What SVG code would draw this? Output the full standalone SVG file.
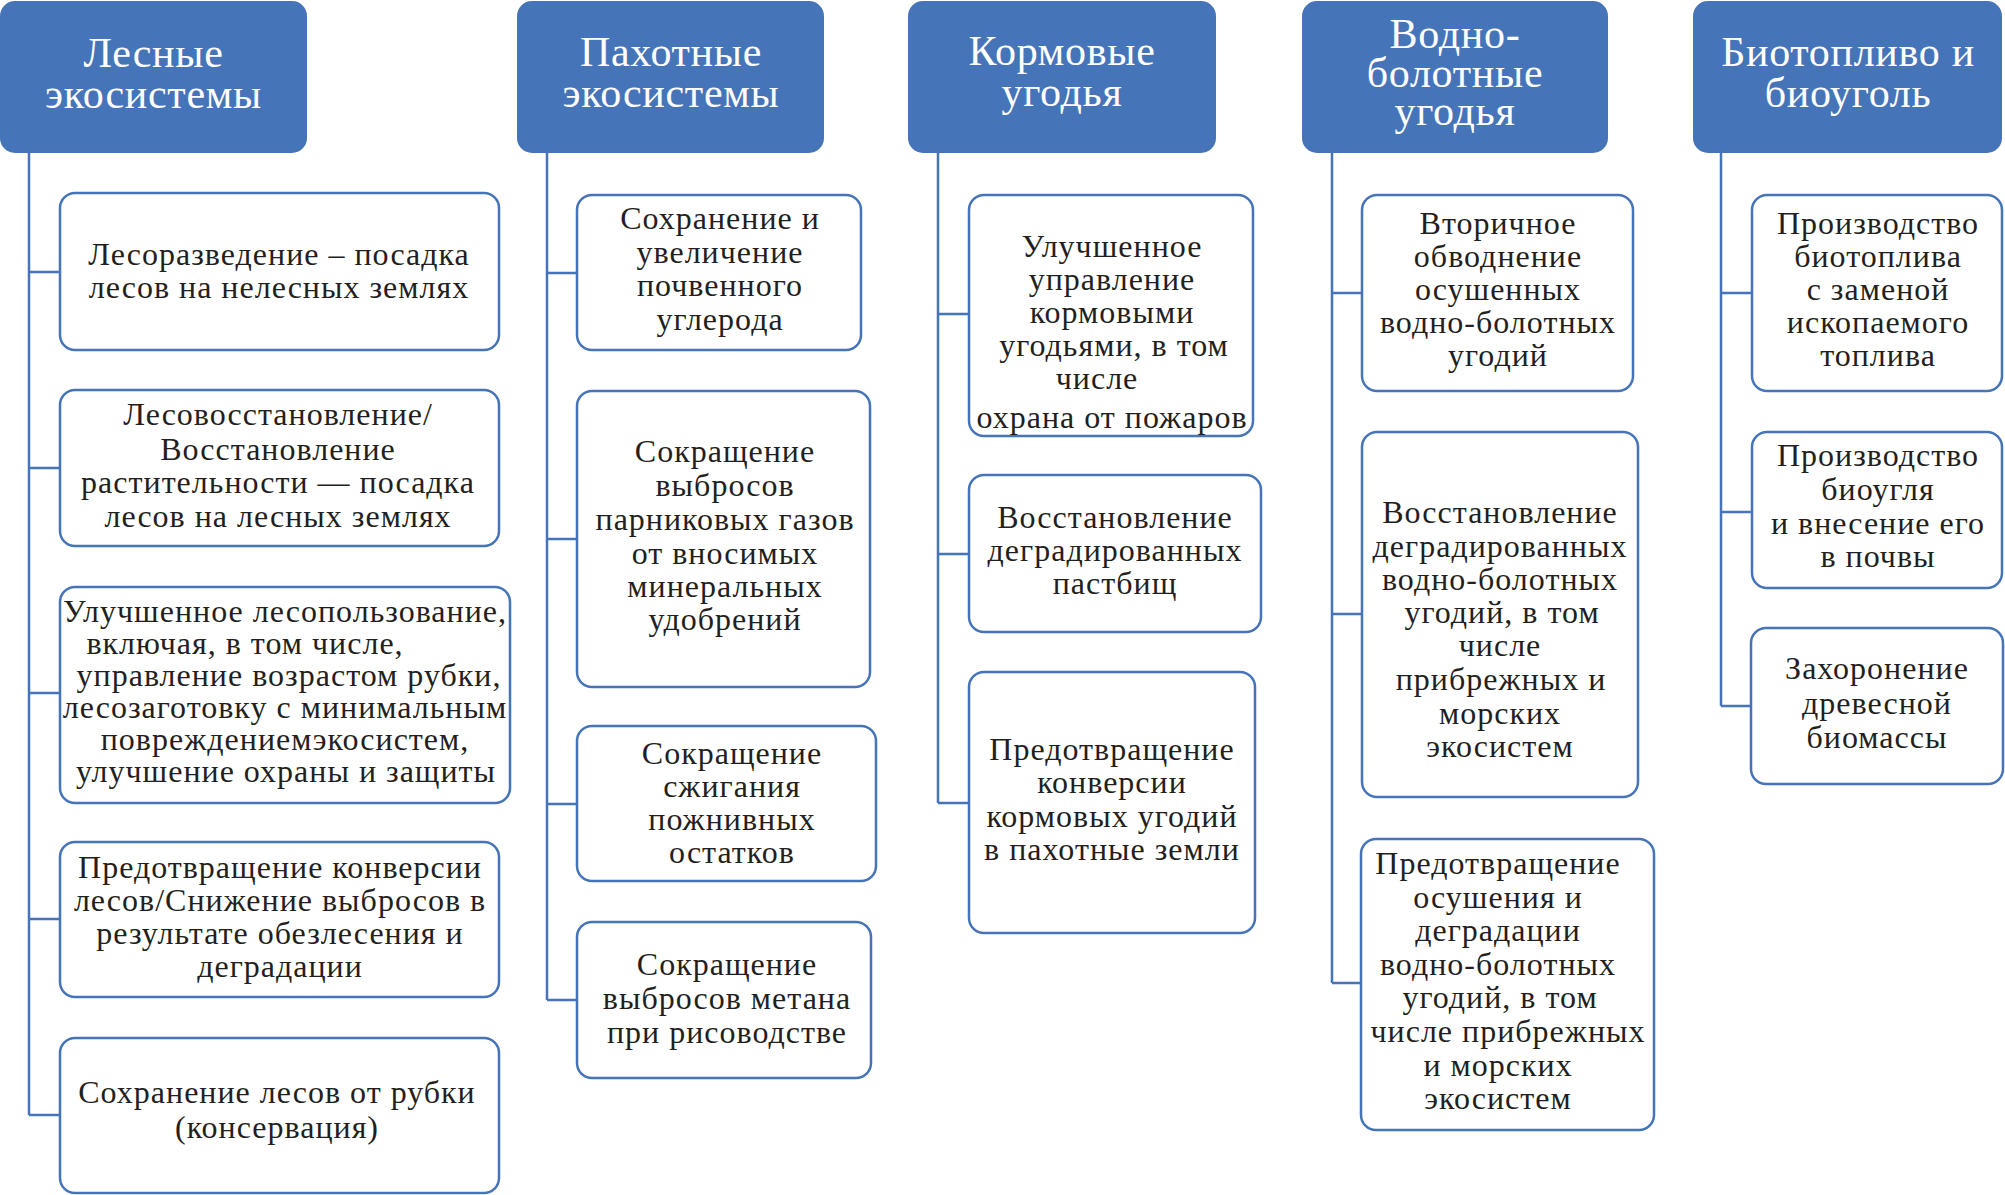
<svg xmlns="http://www.w3.org/2000/svg" width="2005" height="1195" viewBox="0 0 2005 1195">
<style>
.bg{fill:#ffffff}
.hdr rect{fill:#4674b9;stroke:none}
.hdr text{fill:#ffffff;font-family:"Liberation Serif","Times New Roman",serif;font-size:42px;letter-spacing:0.7px;text-anchor:middle}
.box rect{fill:#ffffff;stroke:#4674b9;stroke-width:2.5}
.box text{fill:#231f20;font-family:"Liberation Serif","Times New Roman",serif;font-size:32px;letter-spacing:1px;text-anchor:middle}
.conn path{fill:none;stroke:#4674b9;stroke-width:2.5}
</style>
<rect class="bg" x="0" y="0" width="2005" height="1195"/>
<g id="connectors" class="conn">
<path d="M29,153 V1115 M29,272 H60 M29,468 H60 M29,693 H60 M29,919 H60 M29,1115 H60"/>
<path d="M547,153 V1000 M547,273 H577 M547,539 H577 M547,804 H577 M547,1000 H577"/>
<path d="M938,153 V803 M938,314 H969 M938,554 H969 M938,803 H969"/>
<path d="M1332,153 V983 M1332,293 H1362 M1332,614 H1362 M1332,983 H1361"/>
<path d="M1721,153 V706 M1721,293 H1752 M1721,512 H1752 M1721,706 H1751"/>
</g>
<g id="h1" class="hdr"><rect x="0" y="1" width="307" height="152" rx="15"/><text x="153.5" y="67">Лесные</text><text x="153.5" y="108">экосистемы</text></g>
<g id="h2" class="hdr"><rect x="517" y="1" width="307" height="152" rx="15"/><text x="671" y="66">Пахотные</text><text x="671" y="107">экосистемы</text></g>
<g id="h3" class="hdr"><rect x="908" y="1" width="308" height="152" rx="15"/><text x="1062" y="65">Кормовые</text><text x="1062" y="106">угодья</text></g>
<g id="h4" class="hdr"><rect x="1302" y="1" width="306" height="152" rx="15"/><text x="1455" y="48">Водно-</text><text x="1455" y="87">болотные</text><text x="1455" y="125">угодья</text></g>
<g id="h5" class="hdr"><rect x="1693" y="1" width="309" height="152" rx="15"/><text x="1848" y="66">Биотопливо и</text><text x="1848" y="107">биоуголь</text></g>

<g id="c1b1" class="box"><rect x="60" y="193" width="439" height="157" rx="15"/><text x="279" y="265">Лесоразведение – посадка</text><text x="279" y="298">лесов на нелесных землях</text></g>
<g id="c1b2" class="box"><rect x="60" y="390" width="439" height="156" rx="15"/><text x="278" y="425">Лесовосстановление/</text><text x="278" y="460">Восстановление</text><text x="278" y="493">растительности — посадка</text><text x="278" y="527">лесов на лесных землях</text></g>
<g id="c1b3" class="box"><rect x="60" y="587" width="450" height="216" rx="15"/><text x="285" y="622">Улучшенное лесопользование,</text><text x="245" y="654">включая, в том числе,</text><text x="289" y="686">управление возрастом рубки,</text><text x="285" y="718">лесозаготовку с минимальным</text><text x="285" y="750">повреждениемэкосистем,</text><text x="286" y="782">улучшение охраны и защиты</text></g>
<g id="c1b4" class="box"><rect x="60" y="842" width="439" height="155" rx="15"/><text x="280" y="878">Предотвращение конверсии</text><text x="280" y="911">лесов/Снижение выбросов в</text><text x="280" y="944">результате обезлесения и</text><text x="280" y="977">деградации</text></g>
<g id="c1b5" class="box"><rect x="60" y="1038" width="439" height="155" rx="15"/><text x="277" y="1103">Сохранение лесов от рубки</text><text x="277" y="1138">(консервация)</text></g>

<g id="c2b1" class="box"><rect x="577" y="195" width="284" height="155" rx="15"/><text x="720" y="229">Сохранение и</text><text x="720" y="263">увеличение</text><text x="720" y="296">почвенного</text><text x="720" y="330">углерода</text></g>
<g id="c2b2" class="box"><rect x="577" y="391" width="293" height="296" rx="15"/><text x="725" y="462">Сокращение</text><text x="725" y="496">выбросов</text><text x="725" y="530">парниковых газов</text><text x="725" y="564">от вносимых</text><text x="725" y="597">минеральных</text><text x="725" y="630">удобрений</text></g>
<g id="c2b3" class="box"><rect x="577" y="726" width="299" height="155" rx="15"/><text x="732" y="764">Сокращение</text><text x="732" y="797">сжигания</text><text x="732" y="830">пожнивных</text><text x="732" y="863">остатков</text></g>
<g id="c2b4" class="box"><rect x="577" y="922" width="294" height="156" rx="15"/><text x="727" y="975">Сокращение</text><text x="727" y="1009">выбросов метана</text><text x="727" y="1043">при рисоводстве</text></g>

<g id="c3b1" class="box"><rect x="969" y="195" width="284" height="241" rx="15"/><text x="1112" y="257">Улучшенное</text><text x="1112" y="290">управление</text><text x="1112" y="323">кормовыми</text><text x="1114" y="356">угодьями, в том</text><text x="1097" y="389">числе</text><text x="1112" y="428">охрана от пожаров</text></g>
<g id="c3b2" class="box"><rect x="969" y="475" width="292" height="157" rx="15"/><text x="1115" y="528">Восстановление</text><text x="1115" y="561">деградированных</text><text x="1115" y="594">пастбищ</text></g>
<g id="c3b3" class="box"><rect x="969" y="672" width="286" height="261" rx="15"/><text x="1112" y="760">Предотвращение</text><text x="1112" y="793">конверсии</text><text x="1112" y="827">кормовых угодий</text><text x="1112" y="860">в пахотные земли</text></g>

<g id="c4b1" class="box"><rect x="1362" y="195" width="271" height="196" rx="15"/><text x="1498" y="234">Вторичное</text><text x="1498" y="267">обводнение</text><text x="1498" y="300">осушенных</text><text x="1498" y="333">водно-болотных</text><text x="1498" y="366">угодий</text></g>
<g id="c4b2" class="box"><rect x="1362" y="432" width="276" height="365" rx="15"/><text x="1500" y="523">Восстановление</text><text x="1500" y="557">деградированных</text><text x="1500" y="590">водно-болотных</text><text x="1502" y="623">угодий, в том</text><text x="1500" y="656">числе</text><text x="1501" y="690">прибрежных и</text><text x="1500" y="724">морских</text><text x="1500" y="757">экосистем</text></g>
<g id="c4b3" class="box"><rect x="1361" y="839" width="293" height="291" rx="15"/><text x="1498" y="874">Предотвращение</text><text x="1498" y="908">осушения и</text><text x="1498" y="941">деградации</text><text x="1498" y="975">водно-болотных</text><text x="1500" y="1008">угодий, в том</text><text x="1508" y="1042">числе прибрежных</text><text x="1498" y="1076">и морских</text><text x="1498" y="1109">экосистем</text></g>

<g id="c5b1" class="box"><rect x="1752" y="195" width="250" height="196" rx="15"/><text x="1878" y="234">Производство</text><text x="1878" y="267">биотоплива</text><text x="1878" y="300">с заменой</text><text x="1878" y="333">ископаемого</text><text x="1878" y="366">топлива</text></g>
<g id="c5b2" class="box"><rect x="1752" y="432" width="250" height="156" rx="15"/><text x="1878" y="466">Производство</text><text x="1878" y="500">биоугля</text><text x="1878" y="534">и внесение его</text><text x="1878" y="567">в почвы</text></g>
<g id="c5b3" class="box"><rect x="1751" y="628" width="252" height="156" rx="15"/><text x="1877" y="679">Захоронение</text><text x="1877" y="714">древесной</text><text x="1877" y="748">биомассы</text></g>
</svg>
